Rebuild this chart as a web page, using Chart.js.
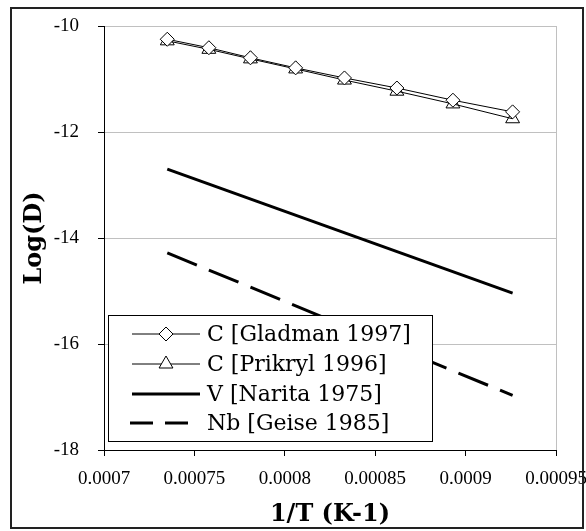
<!DOCTYPE html>
<html>
<head>
<meta charset="utf-8">
<script src="https://cdn.jsdelivr.net/npm/chart.js@4"></script>
<style>
  html, body { margin: 0; padding: 0; background: #fff; }
  #wrap { width: 586px; height: 531px; }
</style>
</head>
<body>
<div id="wrap"><canvas id="chart" width="586" height="531"></canvas></div>
<script>
// 1/T values (K-1) for the carbon data, T = 1360 .. 1080 K
const invT = [0.000735, 0.000758, 0.000781, 0.000806, 0.000833, 0.000862, 0.000893, 0.000926];
const gladman = [-10.25, -10.41, -10.60, -10.79, -10.98, -11.17, -11.40, -11.62];
const prikryl = [-10.28, -10.44, -10.62, -10.81, -11.02, -11.23, -11.47, -11.75];
// the V and Nb relations are straight lines, read at both ends
const lineX = [0.000735, 0.000926];
const narita = [-12.70, -15.04];
const geise = [-14.28, -16.97];
const seriesLabels = ['C [Gladman 1997]', 'C [Prikryl 1996]', 'V [Narita 1975]', 'Nb [Geise 1985]'];
const xTicks = [0.0007, 0.00075, 0.0008, 0.00085, 0.0009, 0.00095];
const yTicks = [-10, -12, -14, -16, -18];

function pts(xs, ys) {
    return xs.map((x, i) => ({ x: x, y: ys[i] }));
}

function drawMarker(ctx, style, x, y, r, fill) {
    ctx.beginPath();
    if (style === 'rectRot') {
        ctx.moveTo(x - r, y);
        ctx.lineTo(x, y - r);
        ctx.lineTo(x + r, y);
        ctx.lineTo(x, y + r);
    } else {
        const h = r * Math.sqrt(3) / 2;
        ctx.moveTo(x, y - r);
        ctx.lineTo(x + h, y + r / 2);
        ctx.lineTo(x - h, y + r / 2);
    }
    ctx.closePath();
    if (fill && fill !== 'transparent') {
        ctx.fillStyle = fill;
        ctx.fill();
    }
    ctx.stroke();
}

// legend box inside the plot + frames
const framePlugin = {
    id: 'frame',
    afterDraw(chart) {
        const ctx = chart.ctx;
        const area = chart.chartArea;
        ctx.save();

        // right edge of plot area (light grey)
        ctx.strokeStyle = '#c0c0c0';
        ctx.lineWidth = 1;
        ctx.beginPath();
        ctx.moveTo(area.right + 0.5, area.top);
        ctx.lineTo(area.right + 0.5, area.bottom);
        ctx.stroke();

        // legend
        const lx = 108.5, ly = 315.5, lw = 324, lh = 126;
        ctx.fillStyle = '#fff';
        ctx.fillRect(lx, ly, lw, lh);
        ctx.strokeStyle = '#000';
        ctx.lineWidth = 1;
        ctx.strokeRect(lx, ly, lw, lh);

        const rows = [334, 364, 394, 423];
        ctx.font = '22px "DejaVu Serif"';
        ctx.textBaseline = 'middle';
        chart.data.datasets.forEach((ds, i) => {
            const y = rows[i];
            ctx.strokeStyle = '#000';
            ctx.lineWidth = ds.borderWidth;
            ctx.setLineDash(ds.borderDash ? [23, 12] : []);
            ctx.beginPath();
            ctx.moveTo(ds.borderDash ? 130 : 132, y);
            ctx.lineTo(200, y);
            ctx.stroke();
            ctx.setLineDash([]);
            if (ds.pointRadius > 0) {
                ctx.lineWidth = 1;
                drawMarker(ctx, ds.pointStyle, 166, y, ds.pointRadius, '#fff');
            }
            ctx.fillStyle = '#000';
            ctx.fillText(ds.label, 207, y + 1);
        });

        // outer chart border
        ctx.strokeStyle = '#222';
        ctx.lineWidth = 2;
        ctx.strokeRect(11, 8, 572, 520);
        ctx.restore();
    }
};

const ctx = document.getElementById('chart').getContext('2d');

new Chart(ctx, {
    type: 'scatter',
    data: {
        datasets: [{
            label: seriesLabels[0],
            data: pts(invT, gladman),
            showLine: true,
            borderColor: '#000',
            borderWidth: 1,
            pointStyle: 'rectRot',
            pointRadius: 7,
            pointBackgroundColor: '#fff',
            pointBorderColor: '#000',
            pointBorderWidth: 1
        }, {
            label: seriesLabels[1],
            data: pts(invT, prikryl),
            showLine: true,
            borderColor: '#000',
            borderWidth: 1,
            pointStyle: 'triangle',
            pointRadius: 8,
            pointBackgroundColor: 'transparent',
            pointBorderColor: '#000',
            pointBorderWidth: 1
        }, {
            label: seriesLabels[2],
            data: pts(lineX, narita),
            showLine: true,
            borderColor: '#000',
            borderWidth: 3,
            pointRadius: 0
        }, {
            label: seriesLabels[3],
            data: pts(lineX, geise),
            showLine: true,
            borderColor: '#000',
            borderWidth: 3,
            borderDash: [32, 13],
            pointRadius: 0
        }]
    },
    options: {
        responsive: false,
        animation: false,
        layout: { padding: { left: 12, top: 26, right: 30, bottom: 2 } },
        plugins: {
            legend: { display: false },
            tooltip: { enabled: false }
        },
        scales: {
            x: {
                type: 'linear',
                min: 0.0007,
                max: 0.00095,
                afterBuildTicks: s => { s.ticks = xTicks.map(v => ({ value: v })); },
                afterFit: s => { s.height = 79; s.paddingLeft = 0; s.paddingRight = 0; },
                border: { color: '#000', width: 1 },
                grid: { drawOnChartArea: false, tickLength: 6, tickColor: '#000' },
                ticks: {
                    color: '#000',
                    padding: 12,
                    maxRotation: 0,
                    font: { family: '"Liberation Serif"', size: 19 },
                    callback: v => String(v)
                },
                title: {
                    display: true,
                    text: '1/T (K-1)',
                    color: '#000',
                    padding: { top: 0, bottom: 0 },
                    font: { family: '"DejaVu Serif"', size: 24, weight: 'bold' }
                }
            },
            y: {
                type: 'linear',
                min: -18,
                max: -10,
                afterBuildTicks: s => { s.ticks = yTicks.map(v => ({ value: v })); },
                afterFit: s => { s.width = 92; s.paddingTop = 0; s.paddingBottom = 0; },
                border: { color: '#000', width: 1 },
                grid: { color: '#c0c0c0', tickLength: 6, tickColor: '#000' },
                ticks: {
                    color: '#000',
                    padding: 19,
                    font: { family: '"Liberation Serif"', size: 19 },
                    callback: v => String(v)
                },
                title: {
                    display: true,
                    text: 'Log(D)',
                    color: '#000',
                    padding: { top: 8, bottom: 0 },
                    font: { family: '"DejaVu Serif"', size: 24, weight: 'bold' }
                }
            }
        }
    },
    plugins: [framePlugin]
});
</script>
</body>
</html>
